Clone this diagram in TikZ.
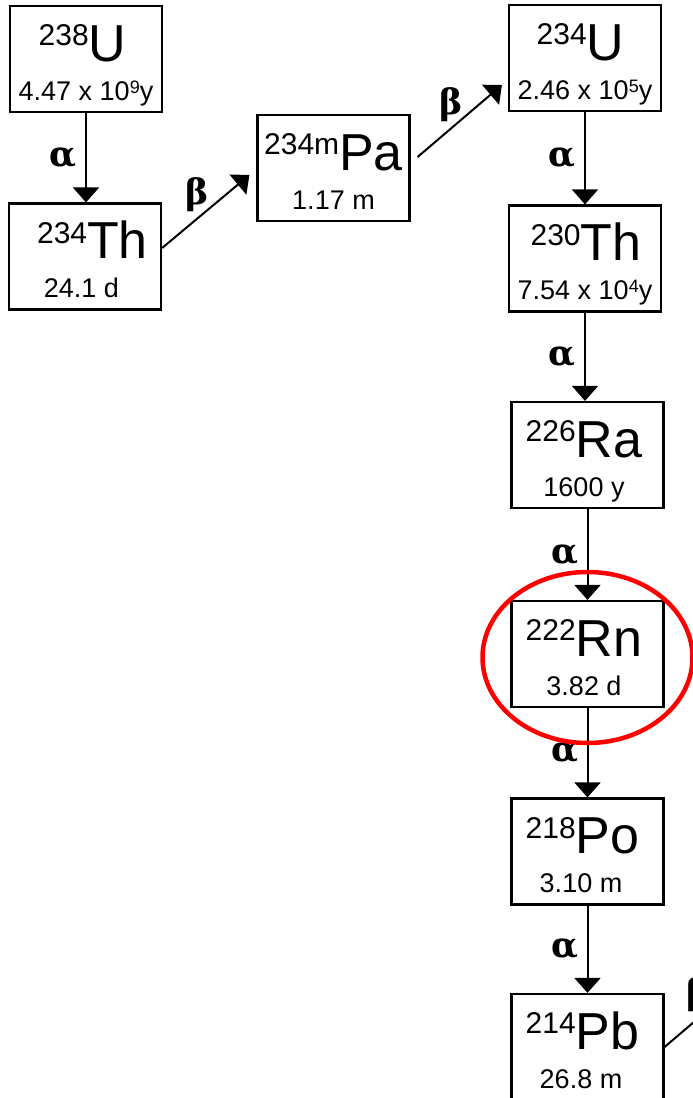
\documentclass[tikz,border=0pt]{standalone}
\usepackage{fontspec}
\setmainfont{Liberation Sans}
\newfontfamily\greekfont{DejaVu Serif}
\usetikzlibrary{arrows.meta}

% nuclide symbol with its mass number as a raised prefix
\newcommand\nucl[2]{{\fontsize{30}{30}\selectfont\raisebox{15.5pt}{#1}}{\fontsize{52}{52}\selectfont #2}}
% half-life written as a power of ten
\newcommand\pten[3]{#1\raisebox{7pt}{\fontsize{18}{18}\selectfont #2}#3}

\tikzset{
  isobox/.style={draw, line width=2.2pt, minimum width=152pt, minimum height=106pt, inner sep=0pt},
  isotext/.style={anchor=base, inner sep=0pt},
  hltext/.style={anchor=base, inner sep=0pt, font=\fontsize{27}{27}\selectfont},
  decay/.style={line width=2pt, -{Triangle[length=15pt,width=26pt]}},
  greeklbl/.style={font=\greekfont\bfseries\fontsize{35}{35}\selectfont, inner sep=0pt},
  alphalbl/.style={greeklbl, xshift=-23pt},
  betalbl/.style={greeklbl, pos=0.4, yshift=24pt},
  highlight/.style={draw=red, line width=4.5pt}
}

% #1 name, #2 x, #3 y, #4 mass, #5 symbol, #6 half-life, #7/#8 x offsets of the two lines
\newcommand\nuclidebox[8]{%
  \node[isobox] (#1) at (#2,#3) {};
  \node[isotext] (#1-s) at ([xshift=#7pt, yshift=-2pt]#1.center) {\nucl{#4}{#5}};
  \node[hltext] (#1-h) at ([xshift=#8pt, yshift=-41pt]#1.center) {#6};
}

\begin{document}
\begin{tikzpicture}[x=1pt, y=-1pt]
  \useasboundingbox (0,0) rectangle (693,1098);
  \clip (0,0) rectangle (693,1098);

  % nuclides of the chain
  \nuclidebox{u238}{86}{59}{238}{U}{\pten{4.47 x 10}{9}{y}}{-3.5}{0}
  \nuclidebox{th234}{85}{256.5}{234}{Th}{24.1 d}{7.5}{-3.5}
  \nuclidebox{pa234}{333.5}{168}{234m}{Pa}{1.17 m}{0}{0}
  \nuclidebox{u234}{585}{58}{234}{U}{\pten{2.46 x 10}{5}{y}}{-4.5}{0}
  \nuclidebox{th230}{585}{258.5}{230}{Th}{\pten{7.54 x 10}{4}{y}}{1}{0}
  \nuclidebox{ra226}{587.5}{455}{226}{Ra}{1600 y}{-3.5}{-3.5}
  \nuclidebox{rn222}{587.5}{654}{222}{Rn}{3.82 d}{-3.5}{-3.5}
  \nuclidebox{po218}{587.5}{851.5}{218}{Po}{3.10 m}{-5}{-6.5}
  \nuclidebox{pb214}{587.5}{1047}{214}{Pb}{26.8 m}{-5}{-6.5}

  % alpha decays
  \draw[decay] (u238.south) -- node[alphalbl] (a1) {α} (u238.south |- th234.north);
  \draw[decay] (u234.south) -- node[alphalbl] (a2) {α} (u234.south |- th230.north);
  \draw[decay] (th230.south) -- node[alphalbl] (a3) {α} (th230.south |- ra226.north);
  \draw[decay] (ra226.south) -- node[alphalbl] (a4) {α} (ra226.south |- rn222.north);
  \draw[decay] (rn222.south) -- node[alphalbl] (a5) {α} (rn222.south |- po218.north);
  \draw[decay] (po218.south) -- node[alphalbl] (a6) {α} (po218.south |- pb214.north);

  % beta decays
  \draw[decay] ([yshift=8.5pt]th234.east) -- node[betalbl] (b1) {β} ([xshift=-7pt, yshift=-7pt]pa234.west);
  \draw[decay] ([xshift=7pt, yshift=11pt]pa234.east) -- node[betalbl] (b2) {β} ([xshift=-6pt, yshift=-27pt]u234.west);
  \coordinate (pbnext) at (749,975);
  \draw[decay] (pb214.east) -- node[betalbl] (b3) {β} (pbnext);

  % radon ringed
  \draw[highlight] ([yshift=-3.5pt]rn222.center) ellipse [x radius=105pt, y radius=85.5pt];
\end{tikzpicture}
\end{document}
